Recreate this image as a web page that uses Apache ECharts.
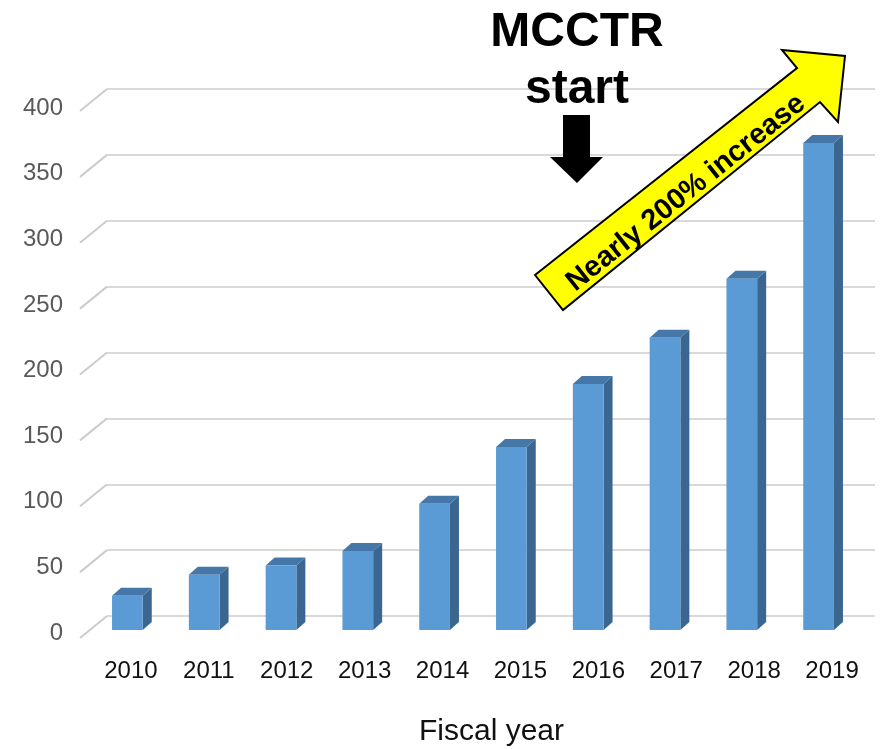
<!DOCTYPE html>
<html>
<head>
<meta charset="utf-8">
<script src="https://cdn.jsdelivr.net/npm/echarts@6/dist/echarts.min.js"></script>
<style>
  html, body { margin: 0; padding: 0; background: #fff; }
  #chart { width: 881px; height: 749px; }
</style>
</head>
<body>
<div id="chart"></div>
<script>
// data
const years = ['2010', '2011', '2012', '2013', '2014', '2015', '2016', '2017', '2018', '2019'];
const counts = [26, 42, 49, 60, 96, 139, 187, 222, 267, 370];
const gridTicks = [0, 50, 100, 150, 200, 250, 300, 350, 400];

const FONT = 'Liberation Sans, Arial, sans-serif';

// fake 3d: depth of the bars and of the floor
const DEPTH_X = 9, DEPTH_Y = -8;
const WALL_X = 27, WALL_Y = -22;

const chart = echarts.init(document.getElementById('chart'));

const option = {
  backgroundColor: '#fff',
  animation: false,
  grid: [
    // bar plane
    { left: 89, right: 24, top: 103.6, bottom: 119, outerBoundsMode: 'none' },
    // back wall
    { left: 107, right: 6, top: 89, bottom: 133, outerBoundsMode: 'none' },
    // labels (front plane)
    { left: 92, right: 10, top: 108, bottom: 116, outerBoundsMode: 'none' }
  ],
  xAxis: [
    {
      type: 'category', gridIndex: 0, data: years,
      axisLine: { show: false }, axisTick: { show: false }, axisLabel: { show: false }
    },
    {
      type: 'value', gridIndex: 1, min: 0, max: 1, show: false
    },
    {
      type: 'category', gridIndex: 2, data: years,
      axisLine: { show: false }, axisTick: { show: false },
      axisLabel: { color: '#111', fontSize: 24, fontFamily: FONT, margin: 26, lineHeight: 24 },
      name: 'Fiscal year',
      nameLocation: 'middle',
      nameGap: 84,
      nameTextStyle: { color: '#111', fontSize: 30, fontFamily: FONT, padding: [0, 0, 0, 20] }
    }
  ],
  yAxis: [
    {
      type: 'value', gridIndex: 0, min: 0, max: 400, interval: 50, show: false
    },
    {
      type: 'value', gridIndex: 1, min: 0, max: 400, interval: 50,
      axisLine: { show: false }, axisTick: { show: false }, axisLabel: { show: false },
      splitLine: { lineStyle: { color: '#d9d9d9', width: 2 } }
    },
    {
      type: 'value', gridIndex: 2, min: 0, max: 400, interval: 50,
      axisLine: { show: false }, axisTick: { show: false }, splitLine: { show: false },
      axisLabel: { color: '#595959', fontSize: 24, fontFamily: FONT, margin: 29 }
    }
  ],
  series: [
    {
      // slanted tick lines joining the labels to the back wall
      type: 'custom',
      xAxisIndex: 1, yAxisIndex: 1,
      data: gridTicks,
      silent: true,
      renderItem: function (params, api) {
        const p = api.coord([0, api.value(0)]);
        return {
          type: 'line',
          shape: { x1: p[0] - WALL_X, y1: p[1] - WALL_Y, x2: p[0], y2: p[1] },
          style: { stroke: '#cccccc', lineWidth: 2 }
        };
      }
    },
    {
      type: 'custom',
      xAxisIndex: 0, yAxisIndex: 0,
      data: counts.map((v, i) => [i, v]),
      renderItem: function (params, api) {
        const top = api.coord([api.value(0), api.value(1)]);
        const base = api.coord([api.value(0), 0]);
        const w = api.size([1, 0])[0] * 0.4;
        const x0 = top[0] - w / 2, x1 = top[0] + w / 2;
        return {
          type: 'group',
          children: [
            {
              type: 'polygon',
              shape: { points: [[x1, top[1]], [x1 + DEPTH_X, top[1] + DEPTH_Y], [x1 + DEPTH_X, base[1] + DEPTH_Y], [x1, base[1]]] },
              style: { fill: '#3b6690' }
            },
            {
              type: 'polygon',
              shape: { points: [[x0, top[1]], [x1, top[1]], [x1 + DEPTH_X, top[1] + DEPTH_Y], [x0 + DEPTH_X, top[1] + DEPTH_Y]] },
              style: { fill: '#4677a9' }
            },
            {
              type: 'rect',
              shape: { x: x0, y: top[1], width: w, height: base[1] - top[1] },
              style: { fill: '#5b9bd5' }
            }
          ]
        };
      }
    }
  ],
  graphic: [
    {
      type: 'text', x: 577, y: 33, z: 10,
      style: { text: 'MCCTR', font: 'bold 48px ' + FONT, fill: '#000', align: 'center', verticalAlign: 'middle' }
    },
    {
      type: 'text', x: 577, y: 90, z: 10,
      style: { text: 'start', font: 'bold 48px ' + FONT, fill: '#000', align: 'center', verticalAlign: 'middle' }
    },
    {
      // down arrow
      type: 'polygon', z: 10,
      shape: { points: [[563, 115], [590, 115], [590, 157], [603, 157], [577, 183], [550, 157], [563, 157]] },
      style: { fill: '#000' }
    },
    {
      // yellow trend arrow
      type: 'polygon', z: 10,
      shape: { points: [[535, 275], [797, 68], [782, 50], [845, 56], [838, 122], [820, 102], [563, 310]] },
      style: { fill: '#ffff00', stroke: '#000', lineWidth: 2, lineJoin: 'miter' }
    },
    {
      type: 'text', x: 686, y: 193, z: 11, rotation: 38.7 * Math.PI / 180,
      style: { text: 'Nearly 200% increase', font: 'bold 29px ' + FONT, fill: '#000', align: 'center', verticalAlign: 'middle' }
    }
  ]
};

chart.setOption(option);
</script>
</body>
</html>
